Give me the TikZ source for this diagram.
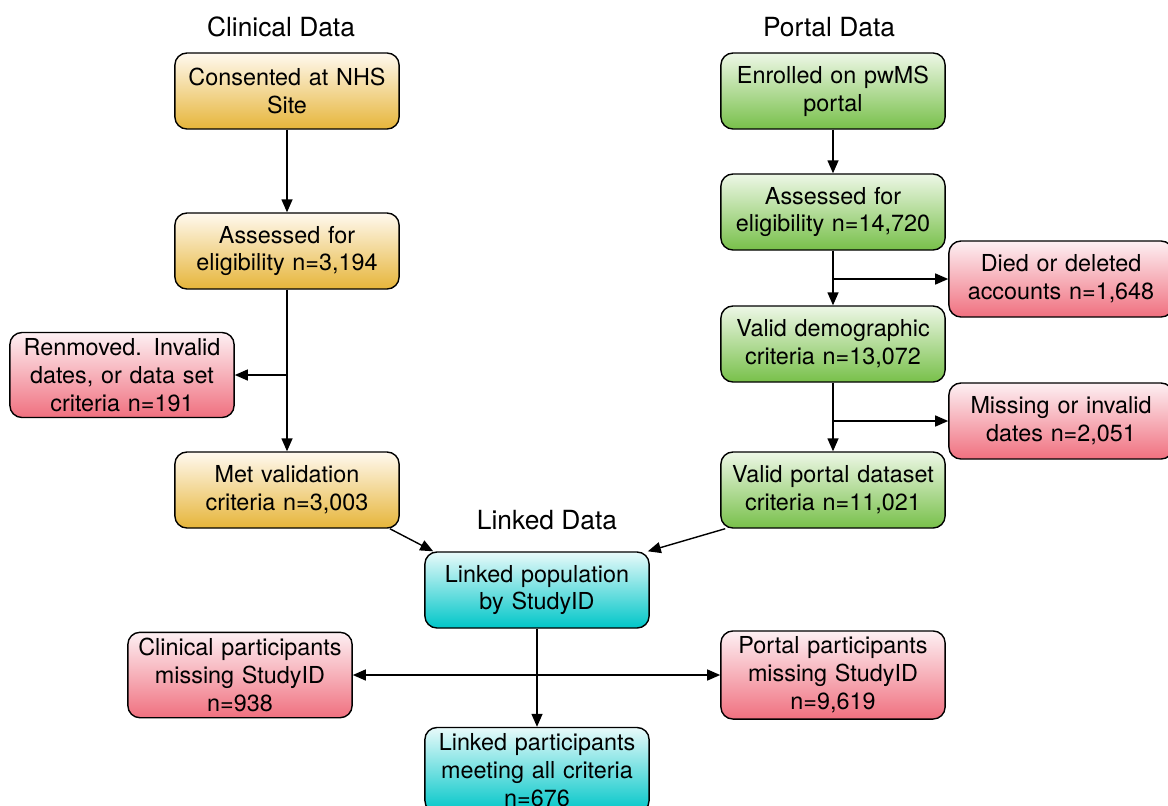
\documentclass[tikz,border=0pt]{standalone}
\usepackage{fontspec}
\setmainfont{TeX Gyre Heros}
\usepackage{tikz}
\usetikzlibrary{shapes,arrows.meta,positioning}
\definecolor{goldbot}{HTML}{E6B53A}
\definecolor{goldtop}{HTML}{FFF9EF}
\definecolor{greenbot}{HTML}{78C04A}
\definecolor{greentop}{HTML}{EDF7E6}
\definecolor{pinkbot}{HTML}{F0707F}
\definecolor{pinktop}{HTML}{FDF0F3}
\definecolor{cyanbot}{HTML}{00C6C8}
\definecolor{cyantop}{HTML}{E8FAFA}
\tikzset{basic/.style={rectangle,draw,line width=0.8pt,rounded corners=0.24cm,minimum width=4.38cm,minimum height=1.52cm,text width=4.25cm,align=center,font=\fontsize{13.3}{15.9}\selectfont}}
\tikzset{clinical/.style={basic,top color=goldtop,bottom color=goldbot}}
\tikzset{portal/.style={basic,top color=greentop,bottom color=greenbot}}
\tikzset{exclude/.style={basic,top color=pinktop,bottom color=pinkbot}}
\tikzset{linked/.style={basic,top color=cyantop,bottom color=cyanbot}}
\tikzset{heading/.style={font=\fontsize{15}{18}\selectfont}}
\tikzset{arrow/.style={draw,line width=0.8pt,>={Triangle[length=2.6mm,width=2.2mm]}}}

\begin{document}
\begin{tikzpicture}
    \useasboundingbox (0,0) rectangle (23.36,-16.10);

    \node[clinical] (consent) at (5.74,-1.82) {Consented at NHS\\Site};
    \node[clinical,below of=consent,node distance=3.2cm] (cassess) {Assessed for\\eligibility n=3,194};
    \node[clinical,below of=cassess,node distance=4.78cm] (cvalid) {Met validation\\criteria n=3,003};
    \node[exclude,left of=cassess,node distance=3.3cm,yshift=-2.48cm] (removed) {Renmoved. Invalid\\dates, or data set\\criteria n=191};

    \node[portal,right of=consent,node distance=10.92cm] (enrol) {Enrolled on pwMS\\portal};
    \node[portal,below of=enrol,node distance=2.42cm] (passess) {Assessed for\\eligibility n=14,720};
    \node[portal,below of=passess,node distance=2.64cm] (pdemo) {Valid demographic\\criteria n=13,072};
    \node[portal,below of=pdemo,node distance=2.92cm] (pvalid) {Valid portal dataset\\criteria n=11,021};
    \node[exclude,minimum width=4.24cm,right of=passess,node distance=4.56cm,yshift=-1.34cm] (died) {Died or deleted\\accounts n=1,648};
    \node[exclude,minimum width=4.24cm,right of=pdemo,node distance=4.56cm,yshift=-1.54cm] (baddates) {Missing or invalid\\dates n=2,051};

    \node[linked,right of=cvalid,node distance=5cm,yshift=-2cm] (lpop) {Linked population\\by StudyID};
    \node[linked,below of=lpop,node distance=3.6cm] (lpart) {Linked participants\\meeting all criteria\\n=676};
    \node[exclude,left of=lpop,node distance=5.94cm,yshift=-1.7cm] (cmiss) {Clinical participants\\missing StudyID\\n=938};
    \node[exclude,below of=pvalid,node distance=3.7cm] (pmiss) {Portal participants\\missing StudyID\\n=9,619};

    \node[heading,above of=consent,node distance=1.28cm,xshift=-0.12cm] (tclin) {Clinical Data};
    \node[heading,above of=enrol,node distance=1.28cm,xshift=-0.08cm] (tport) {Portal Data};
    \node[heading,above of=lpop,node distance=1.4cm,xshift=0.2cm] (tlink) {Linked Data};

        \path[arrow,->] (consent) -- (cassess);
        \path[arrow,->] (cassess) -- (cvalid);
        \path[arrow,->] (cassess.south |- removed.east) -- (removed.east);
        \path[arrow,->] (enrol) -- (passess);
        \path[arrow,->] (passess) -- (pdemo);
        \path[arrow,->] (passess.south |- died.west) -- (died.west);
        \path[arrow,->] (pdemo) -- (pvalid);
        \path[arrow,->] (pdemo.south |- baddates.west) -- (baddates.west);
        \path[arrow,->] ([xshift=-0.2cm]cvalid.south east) -- ([xshift=0.18cm]lpop.north west);
        \path[arrow,->] ([xshift=0.1cm]pvalid.south west) -- ([xshift=-0.04cm]lpop.north east);
        \path[arrow,->] (lpop) -- (lpart);
        \path[arrow,<->] (cmiss.east) -- (pmiss.west);
  \end{tikzpicture}
\end{document}
